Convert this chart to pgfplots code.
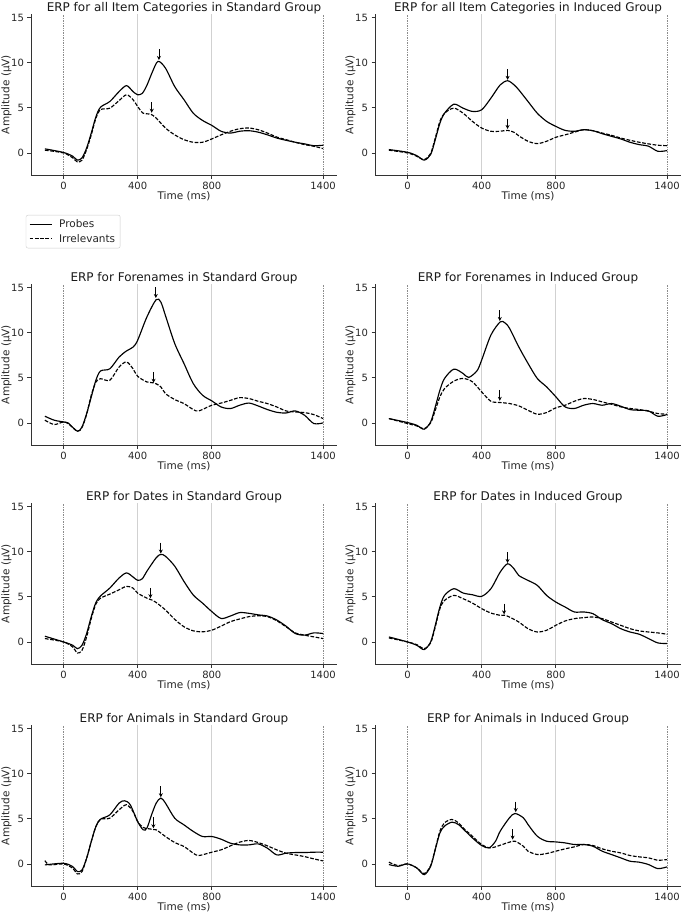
\documentclass[border=0pt]{standalone}
\usepackage{fontspec}
\setmainfont{DejaVu Sans}
\usepackage{pgfplots}
\pgfplotsset{compat=1.18}
\usetikzlibrary{arrows.meta}

\pgfplotsset{
  erp/.style={
    scale only axis, width=306pt, height=161pt, anchor=south west,
    xmin=-175, xmax=1475, ymin=-2.45, ymax=15.4,
    axis x line*=bottom, axis y line*=left,
    axis line style={black!80, line width=0.8pt, -},
    xtick={0,400,800,1400}, ytick={0,5,10,15},
    scaled ticks=false,
    tick align=outside, major tick length=3.5pt,
    tick style={black!80, line width=0.8pt},
    /pgf/number format/assume math mode=true,
    /pgf/number format/1000 sep={},
    ticklabel style={font=\fontsize{10}{11}\selectfont, text=black!85},
    xlabel={Time (ms)}, ylabel={Amplitude (µV)},
    label style={font=\fontsize{10.5}{12}\selectfont, text=black!85},
    xlabel style={at={(axis description cs:0.5,0)}, anchor=north, yshift=-16pt, inner sep=0pt},
    ylabel style={at={(axis description cs:-0.08,0.5)}, anchor=center, inner sep=0pt},
    title style={font=\fontsize{12}{14}\selectfont, text=black!90, at={(0.5,1)}, anchor=base, yshift=-3pt, inner sep=0pt},
  },
  probe/.style={black, line width=1.15pt, smooth},
  irr/.style={black, line width=1.15pt, dash pattern=on 3.7pt off 1.6pt, smooth},
}

% reference lines at 0, 400, 800 and 1400 ms
\newcommand{\vlines}{%
  \draw[black!18, line width=0.9pt] (axis cs:400,-2.45) -- (axis cs:400,15.4);
  \draw[black!18, line width=0.9pt] (axis cs:800,-2.45) -- (axis cs:800,15.4);
  \draw[black!45, densely dotted, line width=0.7pt] (axis cs:0,-2.45) -- (axis cs:0,15.4);
  \draw[black!45, densely dotted, line width=0.7pt] (axis cs:1400,-2.45) -- (axis cs:1400,15.4);
}
% peak arrow: x, tip y, tail y
\newcommand{\arr}[3]{\draw[-{Stealth[length=4pt,width=4pt]}, line width=0.9pt, black] (axis cs:#1,#3) -- (axis cs:#1,#2);}

\begin{document}
\begin{tikzpicture}
\path[use as bounding box] (0pt,0pt) rectangle (685pt,-913pt);

% ---------------- row 1 ----------------
\begin{axis}[erp, at={(31pt,-175pt)},
  title={ERP for all Item Categories in Standard Group},
  legend style={at={(axis description cs:-0.017,-0.248)}, anchor=north west,
    draw=black!20, rounded corners=2pt, font=\fontsize{10.5}{12}\selectfont,
    inner xsep=3pt, inner ysep=2.5pt, row sep=1pt, column sep=5pt,
    nodes={inner sep=2pt, text=black!85}},
  legend cell align=left,
  legend image code/.code={\draw[#1] (0pt,0pt) -- (22pt,0pt);}]
\vlines
\addplot[probe] coordinates {
(-100,0.45) (0,0.05) (50,-0.37) (75,-0.8) (100,-0.55) (125,0.55) (150,2.2) (175,4.0)
(200,5.07) (250,5.7) (300,6.8) (340,7.46) (375,6.8) (400,6.45) (425,6.6) (450,7.5)
(480,9.0) (510,10.15) (550,9.4) (600,7.35) (650,5.9) (700,4.4) (750,3.6) (800,3.05)
(850,2.4) (900,2.2) (950,2.4) (1000,2.46) (1050,2.3) (1100,2.0) (1150,1.65) (1200,1.4)
(1250,1.18) (1300,1.0) (1350,0.8) (1400,0.85)};
\addlegendentry{Probes}
\addplot[irr] coordinates {
(-100,0.3) (0,0) (50,-0.55) (75,-1.0) (100,-0.8) (125,0.37) (150,2.0) (175,3.85)
(200,4.8) (250,4.96) (300,5.8) (340,6.45) (375,5.9) (400,5.15) (430,4.4) (470,4.3)
(500,3.86) (550,2.76) (600,2.0) (650,1.47) (700,1.18) (750,1.18) (800,1.55) (850,2.0)
(900,2.4) (950,2.68) (1000,2.76) (1050,2.57) (1100,2.2) (1150,1.76) (1200,1.47) (1250,1.18)
(1300,0.92) (1350,0.74) (1400,0.48)};
\addlegendentry{Irrelevants}
\arr{515}{10.3}{11.5}
\arr{476}{4.45}{5.6}
\end{axis}

\begin{axis}[erp, at={(375pt,-175pt)},
  title={ERP for all Item Categories in Induced Group}]
\vlines
\addplot[probe] coordinates {
(-100,0.37) (0,0.07) (50,-0.3) (90,-0.8) (125,-0.18) (150,1.47) (175,3.3) (200,4.4)
(250,5.4) (300,4.96) (350,4.6) (400,4.78) (450,6.07) (500,7.54) (540,8.0) (575,7.54)
(600,7.0) (650,5.7) (700,4.4) (750,3.5) (800,2.94) (850,2.5) (900,2.4) (950,2.57)
(1000,2.46) (1050,2.13) (1100,1.84) (1150,1.55) (1200,1.18) (1250,0.92) (1300,0.74)
(1350,0.18) (1400,0.26)};
\addplot[irr] coordinates {
(-100,0.3) (0,0) (50,-0.37) (90,-0.74) (125,-0.07) (150,1.65) (175,3.5) (200,4.4)
(250,4.96) (300,4.4) (350,3.5) (400,2.76) (450,2.4) (500,2.4) (540,2.5) (575,2.28)
(600,1.9) (650,1.29) (700,1.03) (750,1.29) (800,1.73) (850,2.0) (900,2.3) (950,2.57)
(1000,2.46) (1050,2.2) (1100,1.95) (1150,1.65) (1200,1.4) (1250,1.18) (1300,1.0)
(1350,0.85) (1400,0.8)};
\arr{540}{8.1}{9.3}
\arr{540}{2.65}{3.8}
\end{axis}

% ---------------- row 2 ----------------
\begin{axis}[erp, at={(31pt,-445pt)},
  title={ERP for Forenames in Standard Group}]
\vlines
\addplot[probe] coordinates {
(-100,0.74) (-50,0.3) (0,0.11) (25,0) (75,-0.92) (100,-0.44) (125,1.03) (150,2.88)
(175,4.73) (200,5.76) (250,6.0) (300,7.3) (340,7.98) (375,8.4) (400,9.16) (450,11.75)
(500,13.67) (525,13.4) (550,11.9) (600,8.8) (650,6.58) (700,4.36) (750,3.07) (800,2.44)
(850,1.77) (900,1.59) (950,1.96) (1000,2.2) (1050,1.88) (1100,1.48) (1150,1.18)
(1200,1.1) (1250,1.33) (1300,0.85) (1350,-0.07) (1400,0.0)};
\addplot[irr] coordinates {
(-100,0.3) (-50,-0.18) (0,0.11) (25,-0.07) (75,-0.92) (100,-0.5) (125,0.96) (150,3.07)
(175,4.54) (200,4.9) (250,4.73) (300,6.2) (340,6.76) (375,6.0) (400,5.17) (450,4.54)
(490,4.43) (525,4.0) (550,3.25) (600,2.59) (650,2.14) (700,1.48) (730,1.33) (800,1.96)
(850,2.2) (900,2.5) (950,2.8) (1000,2.7) (1050,2.4) (1100,2.14) (1150,1.77) (1200,1.33)
(1250,1.22) (1300,1.14) (1350,0.92) (1400,0.48)};
\arr{498}{13.85}{15.05}
\arr{486}{4.45}{5.65}
\end{axis}

\begin{axis}[erp, at={(375pt,-445pt)},
  title={ERP for Forenames in Induced Group}]
\vlines
\addplot[probe] coordinates {
(-100,0.48) (0,0.04) (50,-0.26) (90,-0.7) (125,0.11) (150,1.78) (175,3.63) (200,4.93)
(250,5.96) (300,5.48) (330,5.04) (375,5.78) (400,6.96) (450,9.74) (500,11.2) (525,11.1)
(550,10.5) (600,8.44) (650,6.6) (700,4.93) (750,4.0) (800,2.9) (850,1.78) (900,1.6)
(950,1.96) (1000,2.15) (1050,1.96) (1100,2.15) (1150,1.85) (1200,1.48) (1250,1.4)
(1300,1.33) (1350,0.74) (1400,0.93)};
\addplot[irr] coordinates {
(-100,0.48) (0,-0.07) (50,-0.33) (90,-0.63) (125,0) (150,1.4) (175,2.89) (200,3.81)
(250,4.63) (300,4.93) (350,4.56) (400,3.44) (450,2.4) (500,2.26) (550,2.15) (600,1.89)
(650,1.4) (700,0.96) (750,1.15) (800,1.67) (850,1.96) (900,2.4) (950,2.7) (1000,2.6)
(1050,2.33) (1100,2.07) (1150,1.78) (1200,1.6) (1250,1.48) (1300,1.3) (1350,1.04)
(1400,0.96)};
\arr{498}{11.3}{12.5}
\arr{498}{2.45}{3.65}
\end{axis}

% ---------------- row 3 ----------------
\begin{axis}[erp, at={(31pt,-664pt)},
  title={ERP for Dates in Standard Group}]
\vlines
\addplot[probe] coordinates {
(-100,0.63) (0,0) (50,-0.37) (75,-0.75) (100,-0.37) (125,0.93) (150,2.8) (175,4.37)
(200,5.1) (250,5.97) (300,7.09) (340,7.65) (375,7.2) (400,6.83) (425,7.0) (450,7.84)
(500,9.33) (525,9.7) (550,9.5) (600,8.4) (650,6.7) (700,5.2) (750,4.3) (800,3.36)
(850,2.6) (900,2.87) (950,3.25) (1000,3.17) (1050,3.0) (1100,2.87) (1150,2.43)
(1200,1.75) (1250,0.93) (1300,0.75) (1350,1.0) (1400,0.93)};
\addplot[irr] coordinates {
(-100,0.37) (0,0) (50,-0.56) (75,-1.23) (100,-0.93) (125,0.56) (150,2.6) (175,4.2)
(200,4.85) (250,5.3) (300,5.78) (340,6.16) (375,5.97) (400,5.41) (450,4.85) (475,4.66)
(500,4.37) (550,3.54) (600,2.5) (650,1.68) (700,1.23) (750,1.12) (800,1.3) (850,1.75)
(900,2.24) (950,2.54) (1000,2.8) (1050,2.9) (1100,2.8) (1150,2.35) (1200,1.68)
(1250,1.0) (1300,0.75) (1350,0.56) (1400,0.37)};
\arr{525}{9.8}{11.0}
\arr{469}{4.85}{6.0}
\end{axis}

\begin{axis}[erp, at={(375pt,-664pt)},
  title={ERP for Dates in Induced Group}]
\vlines
\addplot[probe] coordinates {
(-100,0.55) (0,0) (50,-0.37) (90,-0.85) (125,0) (150,1.84) (175,3.87) (200,5.16)
(250,5.9) (300,5.42) (350,5.23) (400,5.05) (450,5.9) (500,7.74) (540,8.66) (575,8.1)
(600,7.37) (650,6.82) (700,6.27) (750,5.16) (800,4.42) (850,3.87) (900,3.32) (950,3.32)
(1000,3.13) (1050,2.47) (1100,2.03) (1150,1.47) (1200,1.1) (1250,0.85) (1300,0.37)
(1350,-0.11) (1400,-0.18)};
\addplot[irr] coordinates {
(-100,0.44) (0,0) (50,-0.3) (90,-0.74) (125,-0.11) (150,1.66) (175,3.69) (200,4.6)
(250,5.16) (300,4.79) (350,4.31) (400,3.69) (450,3.2) (500,2.95) (525,2.95) (550,2.76)
(600,2.21) (650,1.47) (700,1.1) (750,1.29) (800,1.84) (850,2.32) (900,2.58) (950,2.69)
(1000,2.76) (1050,2.58) (1100,2.21) (1150,1.84) (1200,1.47) (1250,1.22) (1300,1.1)
(1350,1.0) (1400,0.85)};
\arr{540}{8.75}{9.95}
\arr{521}{3.05}{4.25}
\end{axis}

% ---------------- row 4 ----------------
\begin{axis}[erp, at={(31pt,-886pt)},
  title={ERP for Animals in Standard Group}]
\vlines
\addplot[probe] coordinates {
(-100,-0.11) (0,0.07) (50,-0.3) (75,-0.85) (100,-0.67) (125,0.63) (150,2.48) (175,4.15)
(200,4.96) (250,5.44) (300,6.74) (330,7.0) (360,6.56) (400,4.7) (430,3.78) (450,3.96)
(475,5.44) (500,6.74) (525,7.3) (550,6.74) (600,5.07) (650,4.33) (700,3.6) (750,3.04)
(800,3.04) (850,2.74) (900,2.3) (950,2.11) (1000,2.11) (1050,2.22) (1100,1.74)
(1150,1.0) (1200,1.19) (1250,1.26) (1300,1.26) (1350,1.3) (1400,1.3)};
\addplot[irr] coordinates {
(-100,0.37) (-75,-0.11) (0,0) (50,-0.48) (75,-1.11) (100,-0.85) (125,0.63) (150,2.48)
(175,4.15) (200,4.96) (250,5.07) (300,6.0) (340,6.56) (375,5.81) (400,4.7) (430,4.04)
(475,3.85) (500,3.78) (550,3.04) (600,2.37) (650,1.93) (700,1.19) (730,0.93) (800,1.3)
(850,1.56) (900,2.0) (950,2.41) (1000,2.6) (1050,2.37) (1100,2.0) (1150,1.56)
(1200,1.19) (1250,1.0) (1300,0.81) (1350,0.56) (1400,0.33)};
\arr{525}{7.4}{8.6}
\arr{485}{3.95}{5.15}
\end{axis}

\begin{axis}[erp, at={(375pt,-886pt)},
  title={ERP for Animals in Induced Group}]
\vlines
\addplot[probe] coordinates {
(-100,-0.07) (-50,-0.26) (0,0) (50,-0.44) (90,-1.19) (125,-0.26) (150,1.59) (175,3.44)
(200,4.19) (240,4.63) (275,4.37) (300,3.89) (350,2.89) (400,2.04) (440,1.78) (475,2.52)
(500,3.63) (550,5.11) (580,5.59) (625,5.11) (650,4.37) (700,3.07) (750,2.52) (800,2.44)
(850,2.33) (900,2.15) (950,2.15) (1000,1.96) (1050,1.41) (1100,1.04) (1150,0.67)
(1200,0.3) (1250,0.19) (1300,-0.07) (1350,-0.52) (1400,-0.33)};
\addplot[irr] coordinates {
(-100,0.19) (-50,-0.19) (0,0) (50,-0.44) (90,-1.07) (125,-0.19) (150,1.67) (175,3.63)
(200,4.56) (240,4.93) (275,4.56) (300,4.0) (350,3.07) (400,2.15) (440,1.78) (475,1.89)
(500,2.07) (550,2.41) (580,2.52) (625,1.96) (650,1.41) (700,1.04) (750,1.15) (800,1.41)
(850,1.67) (900,1.89) (950,2.15) (1000,2.04) (1050,1.67) (1100,1.41) (1150,1.22)
(1200,0.93) (1250,0.78) (1300,0.67) (1350,0.41) (1400,0.48)};
\arr{584}{5.75}{6.9}
\arr{567}{2.7}{3.85}
\end{axis}
\end{tikzpicture}
\end{document}
